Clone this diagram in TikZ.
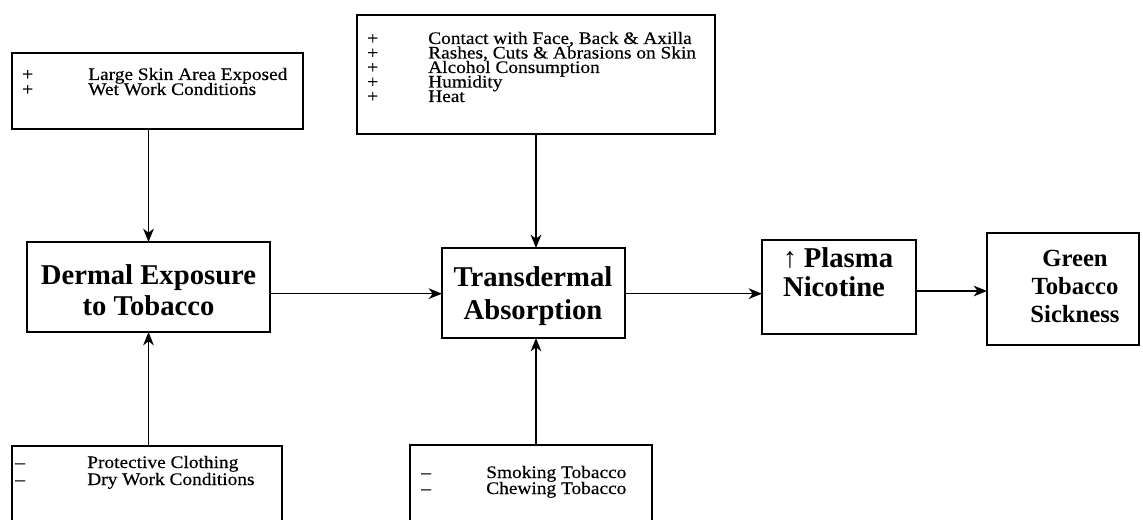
\documentclass[tikz,border=0pt]{standalone}
\usepackage{fontspec}
\setmainfont{Liberation Serif}
\newfontfamily\lstfont[FakeStretch=1.1,FakeBold=0.4]{Liberation Serif}
\usetikzlibrary{arrows.meta}
\tikzset{
  box/.style={draw, line width=1.3pt, inner sep=0pt, outer sep=0pt},
  arr/.style={line width=1.1pt, -{Stealth[length=10pt,width=8pt,inset=3pt]}},
  item/.style={anchor=base west, inner sep=0pt, text height=8pt, text depth=2pt, font=\lstfont\fontsize{13.2}{15}\selectfont},
  head/.style={anchor=base, inner sep=0pt, font=\bfseries\fontsize{21.5}{24}\selectfont},
  headsm/.style={anchor=base, inner sep=0pt, font=\bfseries\fontsize{18.5}{21}\selectfont},
}
\begin{document}
\begin{tikzpicture}[x=0.75pt,y=-0.75pt]
\useasboundingbox (0,0) rectangle (1143,520);
\clip (0,0) rectangle (1143,520);
% boxes
\node[box, minimum width=291*0.75pt, minimum height=76*0.75pt] (tl) at (157.5,91) {};
\node[box, minimum width=358*0.75pt, minimum height=119*0.75pt] (tm) at (536,74.5) {};
\node[box, minimum width=270*0.75pt, minimum height=89*0.75pt] (bl) at (147,490.5) {};
\node[box, minimum width=242*0.75pt, minimum height=90*0.75pt] (bm) at (531,490) {};
\node[box, minimum width=243*0.75pt, minimum height=90*0.75pt] (dermal) at (148.5,287) {};
\node[box, minimum width=183*0.75pt, minimum height=90*0.75pt] (trans) at (533.5,293) {};
\node[box, minimum width=154*0.75pt, minimum height=94*0.75pt] (plasma) at (839,287) {};
\node[box, minimum width=152*0.75pt, minimum height=112*0.75pt] (green) at (1063,289) {};
% list texts
\node[item] (tl1) at (22,80) {\makebox[49.5pt][l]{+}Large Skin Area Exposed};
\node[item] (tl2) at (22,95) {\makebox[49.5pt][l]{+}Wet Work Conditions};
\node[item] (tm1) at (367,44) {\makebox[45.75pt][l]{+}Contact with Face, Back \& Axilla};
\node[item] (tm2) at (367,58.5) {\makebox[45.75pt][l]{+}Rashes, Cuts \& Abrasions on Skin};
\node[item] (tm3) at (367,73) {\makebox[45.75pt][l]{+}Alcohol Consumption};
\node[item] (tm4) at (367,87.5) {\makebox[45.75pt][l]{+}Humidity};
\node[item] (tm5) at (367,102) {\makebox[45.75pt][l]{+}Heat};
\node[item] (bl1) at (15,468) {\makebox[54pt][l]{–}Protective Clothing};
\node[item] (bl2) at (15,485) {\makebox[54pt][l]{–}Dry Work Conditions};
\node[item] (bm1) at (421,478) {\makebox[48.75pt][l]{–}Smoking Tobacco};
\node[item] (bm2) at (421,494) {\makebox[48.75pt][l]{–}Chewing Tobacco};
% headings
\node[head] (d1) at (148.5,285) {Dermal Exposure};
\node[head] (d2) at (148.5,316) {to Tobacco};
\node[head] (t1) at (533,287) {Transdermal};
\node[head] (t2) at (533,320) {Absorption};
\node[head] (p1) at (838,268) {{\mdseries ↑}\hspace{5pt}Plasma};
\node[head] (p2) at (834,297) {Nicotine};
\node[headsm] (g1) at (1075,267) {Green};
\node[headsm] (g2) at (1075,295) {Tobacco};
\node[headsm] (g3) at (1075,323) {Sickness};
% connectors
\draw[arr] (tl.south -| dermal.north) -- (dermal.north);
\draw[arr] (bl.north -| dermal.south) -- (dermal.south);
\draw[arr] (tm.south) -- (tm.south |- trans.north);
\draw[arr] (bm.north -| tm.south) -- (trans.south -| tm.south);
\coordinate (a1) at ([yshift=-5pt]dermal.east);
\draw[arr] (a1) -- (a1 -| trans.west);
\coordinate (a2) at ([yshift=-0.5pt]trans.east);
\draw[arr] (a2) -- (a2 -| plasma.west);
\coordinate (a3) at ([yshift=-3pt]plasma.east);
\draw[arr] (a3) -- (a3 -| green.west);
\end{tikzpicture}
\end{document}
